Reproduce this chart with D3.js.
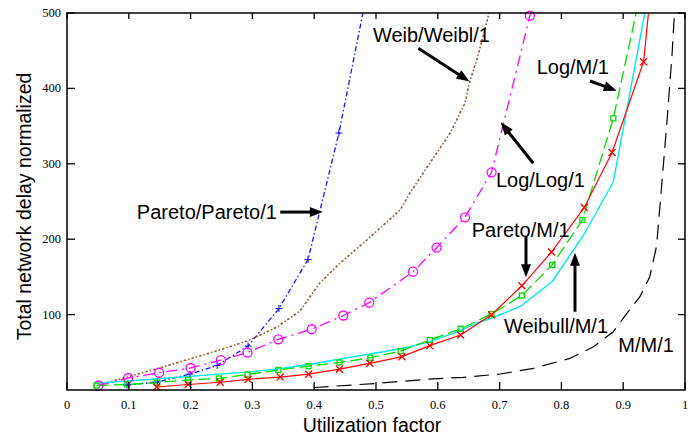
<!DOCTYPE html>
<html>
<head>
<meta charset="utf-8">
<script src="https://cdn.jsdelivr.net/npm/d3@7/dist/d3.min.js"></script>
<style>
  html, body { margin: 0; padding: 0; background: #fff; }
  svg { display: block; }
</style>
</head>
<body>
<svg id="chart" width="697" height="436"></svg>
<script>
// Utilization factor (x) and normalized total network delay (y) per queue model
const ppUtil   = [0.097, 0.146, 0.199, 0.243, 0.293, 0.343, 0.390, 0.440, 0.490];
const ppDelay  = [6.6, 10.6, 21.2, 32.5, 58.4, 108.1, 173.1, 340.8, 546];

const wwUtil   = [0.052, 0.097, 0.150, 0.204, 0.252, 0.296, 0.340, 0.377, 0.409, 0.442,
                  0.485, 0.539, 0.555, 0.583, 0.620, 0.644, 0.651, 0.663, 0.673, 0.686];
const wwDelay  = [6.6, 17.2, 29.2, 42.4, 54.4, 66.3, 83.6, 104.8, 141.9, 168.4,
                  198.9, 238.7, 261.3, 295.8, 340.8, 380.6, 407.2, 437.7, 468.2, 510];

const llUtil   = [0.051, 0.099, 0.149, 0.200, 0.249, 0.292, 0.342, 0.396, 0.447, 0.489,
                  0.560, 0.598, 0.644, 0.687, 0.749, 0.754];
const llDelay  = [6.0, 15.9, 22.9, 29.2, 39.5, 49.5, 67.2, 80.6, 98.8, 115.8,
                  156.9, 188.7, 229.0, 288.7, 496.4, 512];

const pmUtil   = [0.145, 0.196, 0.248, 0.293, 0.345, 0.391, 0.441, 0.490, 0.542, 0.587,
                  0.637, 0.687, 0.736, 0.784, 0.837, 0.882, 0.933, 0.950];
const pmDelay  = [4.0, 7.3, 10.3, 14.2, 17.2, 21.0, 27.6, 35.4, 44.2, 58.8,
                  72.9, 99.9, 138.2, 183.0, 242.0, 315.0, 435.4, 574];

const lmUtil   = [0.048, 0.097, 0.146, 0.196, 0.246, 0.292, 0.342, 0.391, 0.441, 0.491,
                  0.540, 0.587, 0.637, 0.687, 0.736, 0.785, 0.834, 0.884, 0.930];
const lmDelay  = [6.0, 7.3, 9.9, 13.3, 15.3, 20.6, 26.5, 31.6, 36.5, 42.8,
                  51.7, 66.3, 81.2, 100.8, 125.3, 165.8, 225.5, 360.3, 534];

const wmUtil   = [0.048, 0.296, 0.350, 0.404, 0.458, 0.512, 0.555, 0.587, 0.625, 0.663,
                  0.685, 0.733, 0.785, 0.836, 0.884, 0.940];
const wmDelay  = [8.9, 24.1, 28.8, 35.4, 43.4, 50.8, 57.4, 64.1, 75.2, 88.5,
                  94.8, 110.5, 143.9, 205.6, 275.9, 522];

const mmUtil   = [0.399, 0.498, 0.582, 0.641, 0.701, 0.755, 0.814, 0.852, 0.884, 0.906,
                  0.927, 0.943, 0.954, 0.963, 0.971, 0.979, 0.985];
const mmDelay  = [3.3, 8.6, 14.2, 16.8, 21.2, 28.8, 42.0, 57.4, 77.3, 101.7,
                  123.7, 150.3, 191.0, 278.5, 358.1, 444.3, 530.5];

const xTicks = [0, 0.1, 0.2, 0.3, 0.4, 0.5, 0.6, 0.7, 0.8, 0.9, 1];
const xTickLabels = ["0", "0.1", "0.2", "0.3", "0.4", "0.5", "0.6", "0.7", "0.8", "0.9", "1"];
const yTicks = [100, 200, 300, 400, 500];
const yTickLabels = ["100", "200", "300", "400", "500"];

// Callout labels: text anchor and arrow (tail -> head) in data units
const noteText  = ["Pareto/Pareto/1", "Weib/Weibl/1", "Log/Log/1", "Log/M/1", "Pareto/M/1", "Weibull/M/1", "M/M/1"];
const noteAt    = [[0.113, 226.8], [0.495, 462.2], [0.694, 269.6], [0.760, 419.1], [0.655, 202.5], [0.707, 75.2], [0.892, 50.8]];
const noteArrow = [[[0.345, 236], [0.414, 236]],
                   [[0.5685, 453.2], [0.6513, 409.2]],
                   [[0.7545, 300.7], [0.7018, 355.0]],
                   [[0.8463, 409.8], [0.8895, 396.9]],
                   [[0.7427, 204.2], [0.7427, 149.5]],
                   [[0.822, 103.8], [0.822, 182.1]],
                   null];

const W = 697, H = 436;
const plot = { left: 67, right: 685, top: 13, bottom: 390 };

const svg = d3.select("#chart");
const x = d3.scaleLinear().domain([0, 1]).range([plot.left, plot.right]);
const y = d3.scaleLinear().domain([0, 500]).range([plot.bottom, plot.top]);

svg.append("defs").append("clipPath").attr("id", "plotClip")
  .append("rect")
  .attr("x", plot.left).attr("y", plot.top)
  .attr("width", plot.right - plot.left).attr("height", plot.bottom - plot.top);

const series = [
  { u: mmUtil, d: mmDelay, color: "#000000", dash: "15,8",          width: 1.2, marker: null },
  { u: ppUtil, d: ppDelay, color: "#1414ff", dash: "5,2.5,1.5,2.5", width: 1.3, marker: "plus" },
  { u: wwUtil, d: wwDelay, color: "#96582a", dash: "2.5,2,1.5,2",   width: 1.6, marker: null },
  { u: llUtil, d: llDelay, color: "#ff00ff", dash: "11,5,2,5",      width: 1.3, marker: "circle" },
  { u: wmUtil, d: wmDelay, color: "#00e8f0", dash: null,            width: 1.4, marker: null },
  { u: lmUtil, d: lmDelay, color: "#00dd00", dash: "12,5",          width: 1.3, marker: "square" },
  { u: pmUtil, d: pmDelay, color: "#ff0000", dash: null,            width: 1.2, marker: "cross" }
];

const line = d3.line().x(p => x(p[0])).y(p => y(p[1]));

const lines = svg.append("g").attr("clip-path", "url(#plotClip)");
series.forEach(s => {
  const pts = s.u.map((u, i) => [u, s.d[i]]);
  lines.append("path")
    .attr("d", line(pts))
    .attr("fill", "none")
    .attr("stroke", s.color)
    .attr("stroke-width", s.width)
    .attr("stroke-dasharray", s.dash)
    .attr("stroke-linejoin", "round");
});

// Point symbols (only those inside the value range)
const marks = svg.append("g");
series.forEach(s => {
  if (!s.marker) return;
  const pts = s.u.map((u, i) => [u, s.d[i]]).filter(p => p[1] <= 500);
  const g = marks.append("g").attr("stroke", s.color).attr("fill", "none").attr("stroke-width", 1.3);
  pts.forEach(p => {
    const cx = x(p[0]), cy = y(p[1]);
    if (s.marker === "circle") {
      g.append("circle").attr("cx", cx).attr("cy", cy).attr("r", 4.5);
    } else if (s.marker === "square") {
      g.append("rect").attr("x", cx - 2.5).attr("y", cy - 2.5).attr("width", 5).attr("height", 5);
    } else if (s.marker === "cross") {
      g.append("path").attr("d", `M${cx-3.5},${cy-3.5}L${cx+3.5},${cy+3.5}M${cx-3.5},${cy+3.5}L${cx+3.5},${cy-3.5}`);
    } else if (s.marker === "plus") {
      g.append("path").attr("stroke-width", 1.1).attr("d", `M${cx-3.5},${cy}L${cx+3.5},${cy}M${cx},${cy-3.5}L${cx},${cy+3.5}`);
    }
  });
});

// Frame with inward ticks on all four sides
const frame = svg.append("g").attr("stroke", "#000").attr("fill", "none");
frame.append("rect")
  .attr("x", plot.left).attr("y", plot.top)
  .attr("width", plot.right - plot.left).attr("height", plot.bottom - plot.top)
  .attr("stroke-width", 1.5);
xTicks.forEach(t => {
  frame.append("line").attr("x1", x(t)).attr("x2", x(t)).attr("y1", plot.bottom).attr("y2", plot.bottom - 8).attr("stroke-width", 1.3);
  frame.append("line").attr("x1", x(t)).attr("x2", x(t)).attr("y1", plot.top).attr("y2", plot.top + 6).attr("stroke-width", 1.3);
});
yTicks.forEach(t => {
  frame.append("line").attr("x1", plot.left).attr("x2", plot.left + 8).attr("y1", y(t)).attr("y2", y(t)).attr("stroke-width", 1.3);
  frame.append("line").attr("x1", plot.right).attr("x2", plot.right - 7).attr("y1", y(t)).attr("y2", y(t)).attr("stroke-width", 1.3);
});

// Tick labels
const tickFont = "'Liberation Serif', 'Times New Roman', serif";
svg.append("g").selectAll("text").data(xTicks).join("text")
  .attr("x", d => x(d)).attr("y", plot.bottom + 19)
  .attr("text-anchor", "middle")
  .attr("font-family", tickFont).attr("font-size", 12.5)
  .text((d, i) => xTickLabels[i]);
svg.append("g").selectAll("text").data(yTicks).join("text")
  .attr("x", plot.left - 6).attr("y", d => y(d) + 4)
  .attr("text-anchor", "end")
  .attr("font-family", tickFont).attr("font-size", 12.5)
  .text((d, i) => yTickLabels[i]);

// Axis titles
const sansFont = "'Liberation Sans', Arial, Helvetica, sans-serif";
svg.append("text")
  .attr("x", (plot.left + plot.right) / 2 - 4).attr("y", 432)
  .attr("text-anchor", "middle")
  .attr("font-family", sansFont).attr("font-size", 19.5)
  .text("Utilization factor");
svg.append("text")
  .attr("transform", `translate(31,${(plot.top + plot.bottom) / 2 + 5}) rotate(-90)`)
  .attr("text-anchor", "middle")
  .attr("font-family", sansFont).attr("font-size", 19.5)
  .text("Total network delay normalized");

// Callouts with arrows
const notes = svg.append("g");
noteText.forEach((txt, i) => {
  notes.append("text")
    .attr("x", x(noteAt[i][0])).attr("y", y(noteAt[i][1]))
    .attr("font-family", sansFont).attr("font-size", 20)
    .attr("fill", "#000")
    .text(txt);
  const a = noteArrow[i];
  if (!a) return;
  const x1 = x(a[0][0]), y1 = y(a[0][1]), x2 = x(a[1][0]), y2 = y(a[1][1]);
  const ang = Math.atan2(y2 - y1, x2 - x1);
  const hl = 13, hw = 5;
  const bx = x2 - hl * Math.cos(ang), by = y2 - hl * Math.sin(ang);
  notes.append("line")
    .attr("x1", x1).attr("y1", y1).attr("x2", bx + 1 * Math.cos(ang)).attr("y2", by + 1 * Math.sin(ang))
    .attr("stroke", "#000").attr("stroke-width", 3);
  const px = -Math.sin(ang), py = Math.cos(ang);
  notes.append("path")
    .attr("d", `M${x2},${y2}L${bx + hw * px},${by + hw * py}L${bx - hw * px},${by - hw * py}Z`)
    .attr("fill", "#000");
});
</script>
</body>
</html>
